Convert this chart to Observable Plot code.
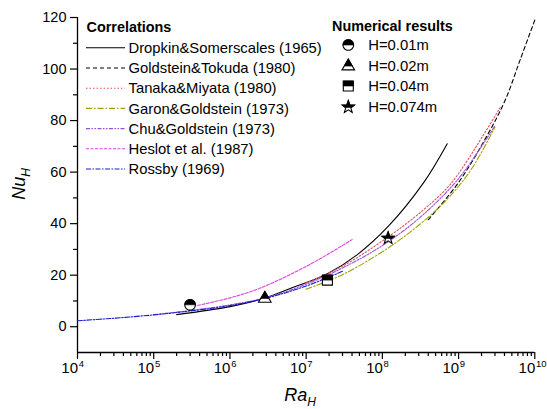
<!DOCTYPE html>
<html><head><meta charset="utf-8">
<script src="https://cdn.jsdelivr.net/npm/d3@7"></script>
<script src="https://cdn.jsdelivr.net/npm/@observablehq/plot@0.6"></script>
<style>body{margin:0;background:#fff;} svg{display:block;}</style>
</head><body><div id="chart"></div>
<script>
// ---- data ----
const dropkinRa = [2e5, 1e6, 2.85e6, 6.2e6, 1.9e7, 4.7e7, 1.2e8, 3.5e8, 7.1e8];
const dropkinNu = [4.7, 7.8, 11.1, 14.8, 20.6, 28, 39, 56, 71];
const goldsteinRa = [4e8, 1e9, 2.4e9, 4.1e9, 6.5e9, 1e10];
const goldsteinNu = [41.5, 56, 74.5, 88, 104, 119];
const tanakaRa = [1e7, 3e7, 1.28e8, 3.5e8, 7.9e8, 2.4e9, 3.5e9];
const tanakaNu = [17, 23.5, 35.5, 45.5, 55.5, 77, 85];
const garonRa = [1e7, 3e7, 1.28e8, 4e8, 7.9e8, 1.5e9, 3e9];
const garonNu = [14.6, 20.2, 31.2, 42.5, 51, 61.5, 77.5];
const chuRa = [1e5, 3e5, 1e6, 3e6, 1e7, 3e7, 1e8, 3e8, 1e9, 3e9];
const chuNu = [4.7, 6.3, 8.5, 11.3, 16.5, 22.8, 31.5, 42, 57.5, 78];
const heslotRa = [3.3e5, 1e6, 2.5e6, 1.14e7, 4e7];
const heslotNu = [7.9, 11.2, 15, 24.3, 33.8];
const rossbyRa = [1e4, 3e4, 1e5, 3e5, 1e6, 3e6, 1e7, 3e7];
const rossbyNu = [2.3, 3.3, 4.6, 6.1, 8.2, 11.1, 15.8, 21.5];

const correlationNames = ["Dropkin&Somerscales (1965)", "Goldstein&Tokuda (1980)", "Tanaka&Miyata (1980)",
  "Garon&Goldstein (1973)", "Chu&Goldstein (1973)", "Heslot et al. (1987)", "Rossby (1969)"];
const correlationRa = [dropkinRa, goldsteinRa, tanakaRa, garonRa, chuRa, heslotRa, rossbyRa];
const correlationNu = [dropkinNu, goldsteinNu, tanakaNu, garonNu, chuNu, heslotNu, rossbyNu];

const markerNames = ["H=0.01m", "H=0.02m", "H=0.04m", "H=0.074m"];
const markerRa = [3.0e5, 2.87e6, 1.9e7, 1.19e8];
const markerNu = [8.5, 11.2, 18.1, 34.6];

const xMajorExp = [4, 5, 6, 7, 8, 9, 10];
const yMajorTicks = [0, 20, 40, 60, 80, 100, 120];
const yMinorTicks = [10, 30, 50, 70, 90, 110];

// ---- styles ----
const lineStyles = [
  {stroke: "#000000", dash: null},
  {stroke: "#000000", dash: "4,3"},
  {stroke: "#e0505a", dash: "1.5,2"},
  {stroke: "#a3a300", dash: "6,2,1.5,2"},
  {stroke: "#9b4fe0", dash: "4,1.5,1.5,1.5,1.5,1.5"},
  {stroke: "#e040e0", dash: "3,1.5"},
  {stroke: "#1a1ad0", dash: "5,1.5,1.5,1.5"}
];

function clipAbove(pts, cut) {
  const out = [];
  for (let i = 0; i < pts.length; i++) {
    const a = pts[i], b = pts[(i + 1) % pts.length];
    const ain = a[1] <= cut, bin = b[1] <= cut;
    if (ain) out.push(a);
    if (ain !== bin) {
      const t = (cut - a[1]) / (b[1] - a[1]);
      out.push([a[0] + t * (b[0] - a[0]), cut]);
    }
  }
  return out;
}
function polySymbol(pts) {
  return {draw(ctx) { pts.forEach((p, i) => i ? ctx.lineTo(p[0], p[1]) : ctx.moveTo(p[0], p[1])); ctx.closePath(); }};
}
const circlePts = d3.range(48).map(i => [5.3 * Math.cos(i / 48 * 2 * Math.PI), 5.3 * Math.sin(i / 48 * 2 * Math.PI)]);
const trianglePts = [[0, -6.6], [6.3, 4.4], [-6.3, 4.4]];
const squarePts = [[-5, -5], [5, -5], [5, 5], [-5, 5]];
const starPts = d3.range(10).map(i => {
  const a = -Math.PI / 2 + i * Math.PI / 5, r = i % 2 ? 2.7 : 6.6;
  return [r * Math.cos(a), r * Math.sin(a) + 0.6];
});
const shapes = [
  {full: polySymbol(circlePts), top: polySymbol(clipAbove(circlePts, 0))},
  {full: polySymbol(trianglePts), top: polySymbol(clipAbove(trianglePts, 0.6))},
  {full: polySymbol(squarePts), top: polySymbol(clipAbove(squarePts, 0))},
  {full: polySymbol(starPts), top: polySymbol(clipAbove(starPts, 0.9))}
];

// ---- tables ----
const lineTables = correlationNames.map((name, i) => correlationRa[i].map((ra, j) => ({name, Ra: ra, Nu: correlationNu[i][j]})));
const markerTable = markerNames.map((name, i) => ({name, Ra: markerRa[i], Nu: markerNu[i]}));
const xMajor = xMajorExp.map(e => Math.pow(10, e));
const xMinor = [];
for (let e = 4; e < 10; e++) for (let k = 2; k <= 9; k++) xMinor.push(k * Math.pow(10, e));

const font = "Liberation Sans, Arial, sans-serif";
const marks = [
  Plot.axisY(yMajorTicks, {tickSize: 7, tickPadding: 4, fontSize: 14.5, tickFormat: d => String(d), label: null, strokeWidth: 1.2}),
  Plot.axisY(yMinorTicks, {tickSize: 4, tickFormat: () => "", label: null, strokeWidth: 1.2}),
  Plot.axisX(xMajor, {tickSize: 7, tickFormat: () => "", label: null, strokeWidth: 1.2}),
  Plot.axisX(xMinor, {tickSize: 4, tickFormat: () => "", label: null, strokeWidth: 1.2}),
  Plot.text(xMajor, {x: d => d, frameAnchor: "bottom", dy: 20, dx: 0.5, text: () => "10", textAnchor: "end", fontSize: 15}),
  Plot.text(xMajor, {x: d => d, frameAnchor: "bottom", dy: 14, dx: 1.2, text: d => String(Math.round(Math.log10(d))), textAnchor: "start", fontSize: 9.5}),
  Plot.ruleX([1e4], {strokeWidth: 1.3}),
  Plot.ruleY([-10], {strokeWidth: 1.3})
];
lineTables.forEach((tbl, i) => {
  marks.push(Plot.line(tbl, {x: "Ra", y: "Nu", stroke: lineStyles[i].stroke, strokeWidth: 1.1,
    strokeDasharray: lineStyles[i].dash, curve: "catmull-rom"}));
});
markerTable.forEach((row, i) => {
  marks.push(Plot.dot([row], {x: "Ra", y: "Nu", symbol: shapes[i].full, fill: "white", stroke: "black", strokeWidth: 1.1}));
  marks.push(Plot.dot([row], {x: "Ra", y: "Nu", symbol: shapes[i].top, fill: "black", stroke: "black", strokeWidth: 0.6}));
});

const plot = Plot.plot({
  width: 547, height: 409,
  marginLeft: 77, marginRight: 12.7, marginTop: 17, marginBottom: 57,
  x: {type: "log", domain: [1e4, 1e10], label: null},
  y: {domain: [-10, 120], label: null},
  style: {fontFamily: font, background: "white", overflow: "visible", color: "black"},
  marks
});
document.getElementById("chart").appendChild(plot);

// ---- legend & axis titles ----
const svg = d3.select(plot);
const g = svg.append("g").attr("font-family", font).attr("fill", "black").attr("text-anchor", "start");
g.append("text").attr("x", 86.5).attr("y", 27).attr("dy", "0.35em").attr("font-size", 14.4).attr("font-weight", "bold").text("Correlations");
correlationNames.forEach((name, i) => {
  const y = 47.8 + 20.2 * i;
  const ln = g.append("line").attr("x1", 86).attr("x2", 125).attr("y1", y).attr("y2", y)
    .attr("stroke", lineStyles[i].stroke).attr("stroke-width", 1.1);
  if (lineStyles[i].dash) ln.attr("stroke-dasharray", lineStyles[i].dash);
  g.append("text").attr("x", 128.5).attr("y", y).attr("dy", "0.35em").attr("font-size", 14.8).text(name);
});
g.append("text").attr("x", 332).attr("y", 26).attr("dy", "0.35em").attr("font-size", 14.4).attr("font-weight", "bold").text("Numerical results");
markerNames.forEach((name, i) => {
  const y = 45 + 20.5 * i;
  g.append("path").attr("d", d3.symbol(shapes[i].full)()).attr("transform", `translate(348.3,${y})`).attr("fill", "white").attr("stroke", "black").attr("stroke-width", 1.1);
  g.append("path").attr("d", d3.symbol(shapes[i].top)()).attr("transform", `translate(348.3,${y})`).attr("fill", "black").attr("stroke", "black").attr("stroke-width", 0.6);
  g.append("text").attr("x", 368.3).attr("y", y).attr("dy", "0.35em").attr("font-size", 14.8).text(name);
});
const xl = g.append("text").attr("x", 300).attr("y", 401).attr("text-anchor", "middle").attr("font-size", 18).attr("font-style", "italic");
xl.append("tspan").text("Ra");
xl.append("tspan").attr("font-size", 12).attr("dy", 5).text("H");
const yl = g.append("text").attr("transform", "translate(25,184) rotate(-90)").attr("text-anchor", "middle").attr("font-size", 18).attr("font-style", "italic");
yl.append("tspan").text("Nu");
yl.append("tspan").attr("font-size", 12).attr("dy", 5).text("H");
</script>
</body></html>
